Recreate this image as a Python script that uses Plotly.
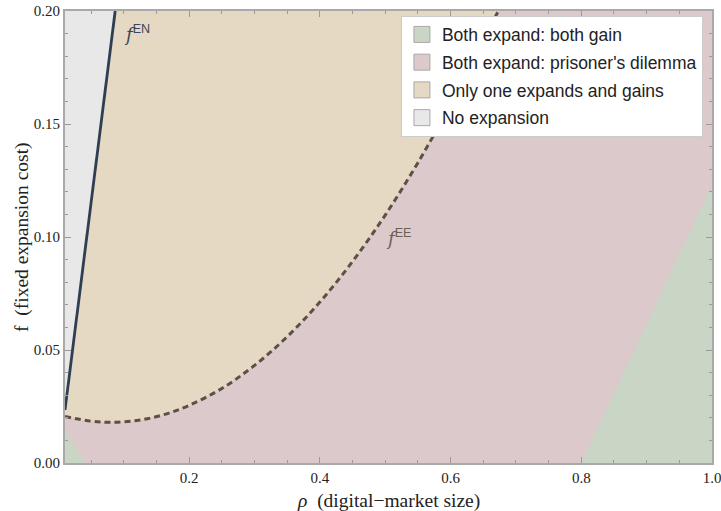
import plotly.graph_objects as go

# ---- data ----
rho_EE = [0.01, 0.05, 0.08, 0.12, 0.16, 0.20, 0.25, 0.30, 0.35, 0.40, 0.45, 0.50, 0.55, 0.60, 0.65, 0.673]
f_EE = [0.0206, 0.0185, 0.018, 0.0188, 0.0213, 0.0255, 0.033, 0.0432, 0.0559, 0.0712, 0.0892, 0.1097, 0.1329, 0.1586, 0.187, 0.20]

rho_EN = [0.01, 0.0868]
f_EN = [0.0235, 0.20]

green_left_rho = [0.01, 0.01, 0.041]
green_left_f = [0.0, 0.0146, 0.0]
green_right_rho = [0.80, 1.0, 1.0]
green_right_f = [0.0, 0.0, 0.123]

x_range = [0.01, 1.0]
y_range = [0.0, 0.20]

legend_names = ["Both expand: both gain", "Both expand: prisoner's dilemma",
                "Only one expands and gains", "No expansion"]
C_GREEN = "#C9D6C5"
C_PINK = "#DCC9CB"
C_BEIGE = "#E5D9C3"
C_GRAY = "#E8E8E8"
legend_colors = [C_GREEN, C_PINK, C_BEIGE, C_GRAY]

fig = go.Figure()

# gray: left of f^EN
gray_x = rho_EN + [x_range[0]]
gray_y = f_EN + [y_range[1]]
fig.add_trace(go.Scatter(x=gray_x, y=gray_y, fill="toself", fillcolor=C_GRAY,
                         mode="lines", line=dict(width=0), showlegend=False, hoverinfo="skip"))
# beige: between f^EN and f^EE
beige_x = rho_EN + rho_EE[::-1]
beige_y = f_EN + f_EE[::-1]
fig.add_trace(go.Scatter(x=beige_x, y=beige_y, fill="toself", fillcolor=C_BEIGE,
                         mode="lines", line=dict(width=0), showlegend=False, hoverinfo="skip"))
# green regions
for gx, gy in [(green_left_rho, green_left_f), (green_right_rho, green_right_f)]:
    fig.add_trace(go.Scatter(x=gx, y=gy, fill="toself", fillcolor=C_GREEN,
                             mode="lines", line=dict(width=0), showlegend=False, hoverinfo="skip"))

# boundary curves
fig.add_trace(go.Scatter(x=rho_EN, y=f_EN, mode="lines",
                         line=dict(color="#2F3E52", width=2.8), showlegend=False, hoverinfo="skip"))
fig.add_trace(go.Scatter(x=rho_EE, y=f_EE, mode="lines", line_shape="spline",
                         line=dict(color="#5E5044", width=3, dash="6px,4px"),
                         showlegend=False, hoverinfo="skip"))

# legend entries
for i, (name, col) in enumerate(zip(legend_names, legend_colors)):
    fig.add_trace(go.Scatter(x=[None], y=[None], mode="markers", name=name,
                             legendgroup=f"g{i}",
                             marker=dict(symbol="square", size=17, color=col,
                                         line=dict(color="#A8A8A8", width=1))))

fig.add_annotation(x=0.12, y=0.19, xref="x", yref="y", showarrow=False,
                   text="<i>f</i><span style='font-family:Liberation Sans'><sup>EN</sup></span>",
                   font=dict(size=18, color="#3A4658", family="DejaVu Serif"))
fig.add_annotation(x=0.52, y=0.0996, xref="x", yref="y", showarrow=False,
                   text="<i>f</i><span style='font-family:Liberation Sans'><sup>EE</sup></span>",
                   font=dict(size=18, color="#6E5F52", family="DejaVu Serif"))

# axis titles
fig.add_annotation(x=0.5, y=-0.084, xref="paper", yref="paper", showarrow=False,
                   xanchor="center", yanchor="middle",
                   text="<i>ρ</i>  (digital−market size)",
                   font=dict(family="Liberation Serif", size=19.5, color="#222"))
fig.add_annotation(x=-0.0665, y=0.5, xref="paper", yref="paper", showarrow=False,
                   xanchor="center", yanchor="middle", textangle=-90,
                   text="f  (fixed expansion cost)",
                   font=dict(family="Liberation Serif", size=19.5, color="#222"))

axis_common = dict(showline=True, linecolor="#A9A9A9", linewidth=2, mirror="ticks",
                   ticks="inside", ticklen=6, tickcolor="#9A9A9A", tickwidth=1.2,
                   showgrid=False, zeroline=False, automargin=False,
                   ticklabeloverflow="allow",
                   tickfont=dict(family="Liberation Serif", size=15, color="#222"))

fig.update_xaxes(range=x_range, tick0=0, dtick=0.2, tickformat=".1f",
                 minor=dict(dtick=0.05, tick0=0, ticks="inside", ticklen=3, tickcolor="#9A9A9A"),
                 **axis_common)
fig.update_yaxes(range=y_range, tick0=0, dtick=0.05, tickformat=".2f",
                 minor=dict(dtick=0.01, tick0=0, ticks="inside", ticklen=3, tickcolor="#9A9A9A"),
                 **axis_common)

fig.update_layout(
    width=721, height=511,
    margin=dict(l=65, r=9, t=11, b=48),
    plot_bgcolor=C_PINK, paper_bgcolor="white",
    legend=dict(x=0.986, xanchor="right", y=0.99, yanchor="top",
                bgcolor="white", bordercolor="#CCCCCC", borderwidth=1,
                font=dict(family="Liberation Sans", size=17.5, color="#222"),
                tracegroupgap=2, itemwidth=30),
)

# remove the page's default 8px body margin so the figure fills the window exactly
fig.write_html("out.html",
               config={"displayModeBar": False},
               post_script="document.body.style.margin='0';"
                           "document.documentElement.style.overflow='hidden';")
